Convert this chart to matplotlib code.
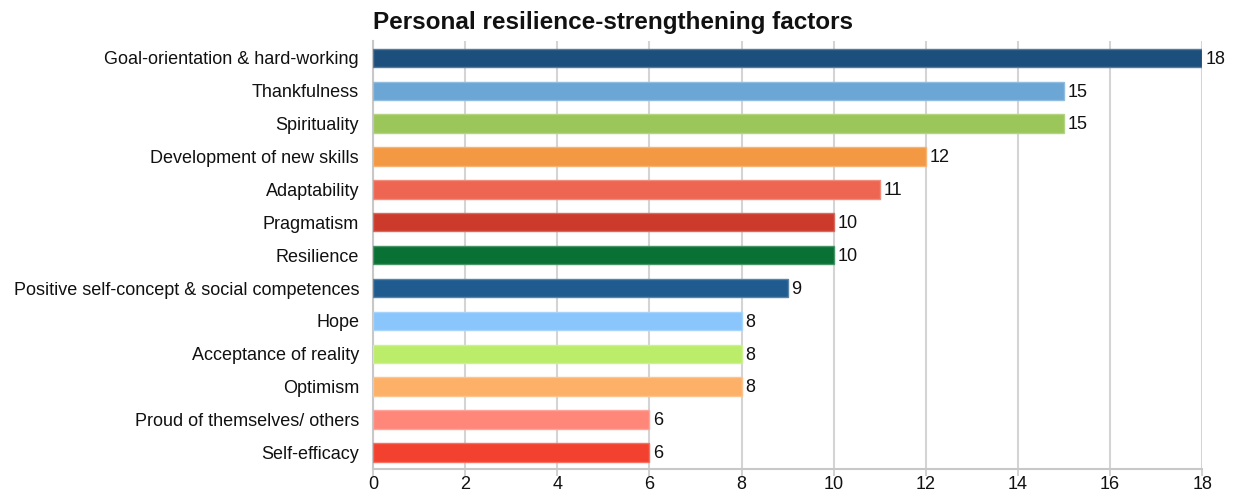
import matplotlib
matplotlib.use("Agg")
import matplotlib.pyplot as plt
import matplotlib.colors as mcolors

plt.rcParams['font.family'] = ['Liberation Sans', 'DejaVu Sans']

factors = [
    "Goal-orientation & hard-working",
    "Thankfulness",
    "Spirituality",
    "Development of new skills",
    "Adaptability",
    "Pragmatism",
    "Resilience",
    "Positive self-concept & social competences",
    "Hope",
    "Acceptance of reality",
    "Optimism",
    "Proud of themselves/ others",
    "Self-efficacy",
]
counts = [18, 15, 15, 12, 11, 10, 10, 9, 8, 8, 8, 6, 6]
bar_colors = [
    "#1d4f7c", "#6ba6d5", "#9bc65a", "#f39943", "#ee6652", "#cb3a2a",
    "#0a7134", "#1f5b8e", "#8ac6fb", "#bbed6b", "#fdb168", "#fe877a", "#f2412f",
]
x_ticks = [0, 2, 4, 6, 8, 10, 12, 14, 16, 18]

fig = plt.figure(figsize=(12.33, 4.93), dpi=100)
ax = fig.add_axes([0.3025, 0.049, 0.6725, 0.867])

ypos = list(range(len(factors)))
edge_colors = []
for c in bar_colors:
    r, g, b = mcolors.to_rgb(c)
    edge_colors.append((r + (1 - r) * 0.25, g + (1 - g) * 0.25, b + (1 - b) * 0.25))

ax.barh(ypos, counts, height=0.56, color=bar_colors, edgecolor=edge_colors,
        linewidth=1.0, zorder=3)

for y, v in zip(ypos, counts):
    ax.text(v + 0.08, y + 0.04, str(v), va='center', ha='left', fontsize=13,
            color='#111111', zorder=4)

ax.set_xlim(0, 18)
ax.set_ylim(len(factors) - 0.5, -0.5)
ax.set_xticks(x_ticks)
ax.set_xticklabels([str(t) for t in x_ticks], fontsize=13, color='#111111')
ax.set_yticks(ypos)
ax.set_yticklabels(factors, fontsize=13, color='#111111')

ax.xaxis.grid(True, color='#d4d4d4', linewidth=1.5, zorder=0)
ax.set_axisbelow(True)
ax.tick_params(axis='y', length=0, pad=10)
ax.tick_params(axis='x', length=5, width=1.2, color='#c8c8c8', pad=0)

for side in ['top', 'right']:
    ax.spines[side].set_visible(False)
for side in ['left', 'bottom']:
    ax.spines[side].set_color('#c8c8c8')
    ax.spines[side].set_linewidth(1.5)

fig.text(0.3025, 0.955, "Personal resilience-strengthening factors",
         fontsize=17.5, fontweight='bold', ha='left', va='center', color='#111111')

fig.savefig("out.png", dpi=100)
